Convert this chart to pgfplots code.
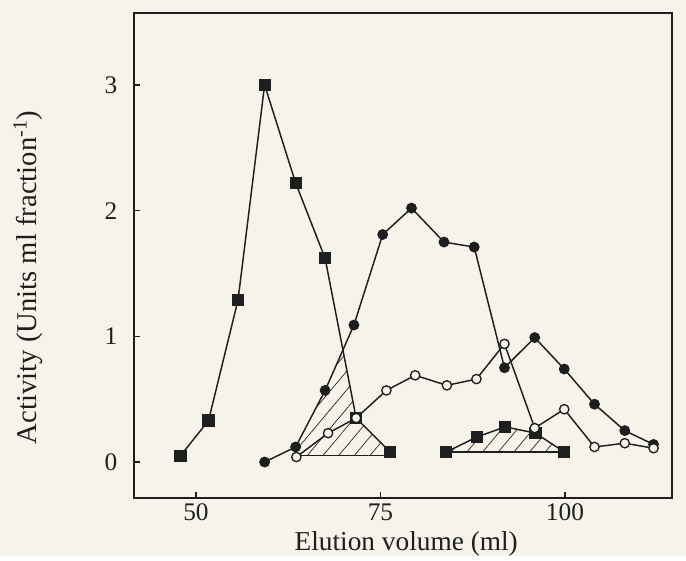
\documentclass[border=0pt]{standalone}
\usepackage{pgfplots}
\pgfplotsset{compat=1.18}
\usepackage{fontspec}
\setmainfont{Liberation Serif}
\usetikzlibrary{patterns.meta}
\definecolor{paper}{HTML}{F6F3EA}
\definecolor{ink}{HTML}{1E1E1E}

\begin{document}
\begin{tikzpicture}[x=1pt,y=1pt]
\fill[paper] (-100.5,-43.5) rectangle (414,373.5);
\begin{axis}[
  at={(0,0)}, anchor=south west,
  scale only axis, width=403.5pt, height=363.75pt,
  xmin=41.6, xmax=114.5, ymin=-0.286, ymax=3.572,
  xtick={50,75,100}, ytick={0,1,2,3},
  xtick pos=bottom, ytick pos=left,
  tick align=inside, major tick length=4.5pt,
  axis line style={ink, line width=1.2pt},
  tick style={ink, line width=0.9pt},
  /pgf/number format/assume math mode=true,
  ticklabel style={font=\fontsize{19}{22}\selectfont, text=ink},
  yticklabel style={xshift=-9pt},
  xticklabel style={yshift=-1pt},
  xlabel={Elution volume (ml)},
  ylabel={Activity (Units ml fraction\textsuperscript{-1})},
  label style={text=ink},
  xlabel style={font=\fontsize{20.5}{23}\selectfont, at={(axis description cs:0.506,-0.094)}, anchor=center},
  ylabel style={font=\fontsize{21.5}{24}\selectfont, at={(axis description cs:-0.197,0.455)}, anchor=center},
  every axis plot/.append style={ink, line width=1.1pt},
  clip=false,
]
% hatched areas
\addplot[draw=none, pattern={Lines[angle=50, distance=9pt, line width=0.5pt]}, pattern color=ink]
  coordinates {(63.6,0.05) (63.5,0.12) (67.5,0.57) (69.9,0.89) (71.7,0.35) (76.3,0.08) (76.3,0.05)} -- cycle;
\addplot[draw=none, pattern={Lines[angle=50, distance=9pt, line width=0.5pt]}, pattern color=ink]
  coordinates {(83.9,0.08) (88.1,0.20) (91.9,0.28) (96.0,0.23) (99.9,0.08)} -- cycle;
% baselines
\addplot[no marks] coordinates {(63.6,0.05) (76.3,0.05)};
\addplot[no marks] coordinates {(83.9,0.08) (99.9,0.08)};
% filled squares, first peak
\addplot[mark=square*, mark size=4pt, mark options={fill=ink, draw=ink}] coordinates {
(47.9,0.05) (51.7,0.33) (55.7,1.29) (59.3,3.00) (63.5,2.22) (67.5,1.62) (71.7,0.35) (76.3,0.08)};
% filled circles
\addplot[mark=*, mark size=3.5pt, mark options={fill=ink, draw=ink}] coordinates {
(59.3,0.00) (63.5,0.12) (67.5,0.57) (71.4,1.09) (75.3,1.81) (79.2,2.02) (83.6,1.75) (87.7,1.71)
(91.8,0.75) (95.9,0.99) (99.9,0.74) (104.0,0.46) (108.1,0.25) (112.0,0.14)};
% filled squares, second group
\addplot[mark=square*, mark size=4pt, mark options={fill=ink, draw=ink}] coordinates {
(83.9,0.08) (88.1,0.20) (91.9,0.28) (96.0,0.23) (99.9,0.08)};
% open circles
\addplot[mark=*, mark size=3.5pt, mark options={fill=paper, draw=ink, line width=1pt}] coordinates {
(63.6,0.04) (67.9,0.23) (71.7,0.35) (75.8,0.57) (79.7,0.69) (84.0,0.61) (88.0,0.66) (91.8,0.94)
(95.9,0.27) (99.9,0.42) (104.0,0.12) (108.1,0.15) (112.0,0.11)};
\end{axis}
\end{tikzpicture}
\end{document}
